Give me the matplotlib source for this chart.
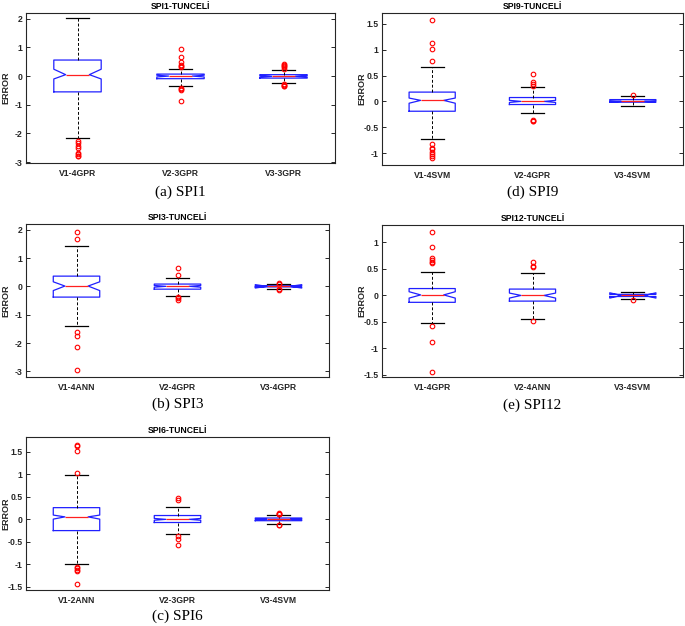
import matplotlib

matplotlib.use("Agg")
import matplotlib.pyplot as plt  # noqa: E402
from matplotlib.ticker import FuncFormatter  # noqa: E402

# ---- data (box statistics per model) ----
spi1_labels = ["V1-4GPR", "V2-3GPR", "V3-3GPR"]
spi1_med = [0.05, 0.0, -0.01]
spi1_q1 = [-0.55, -0.09, -0.07]
spi1_q3 = [0.56, 0.07, 0.05]
spi1_cilo = [-0.10, -0.03, -0.03]
spi1_cihi = [0.24, 0.03, 0.02]
spi1_whislo = [-2.17, -0.34, -0.23]
spi1_whishi = [2.03, 0.25, 0.21]
spi1_fliers = [
    [-2.28, -2.32, -2.45, -2.5, -2.68, -2.72, -2.77, -2.8],
    [0.95, 0.65, 0.5, 0.38, 0.34, 0.3, -0.4, -0.44, -0.48, -0.87],
    [0.42, 0.38, 0.34, 0.3, 0.26, -0.27, -0.3, -0.33, -0.36],
]

spi9_labels = ["V1-4SVM", "V2-4GPR", "V3-4SVM"]
spi9_med = [0.02, 0.0, 0.0]
spi9_q1 = [-0.19, -0.06, -0.015]
spi9_q3 = [0.18, 0.075, 0.035]
spi9_cilo = [-0.035, -0.02, -0.01]
spi9_cihi = [0.065, 0.02, 0.01]
spi9_whislo = [-0.72, -0.22, -0.08]
spi9_whishi = [0.66, 0.27, 0.1]
spi9_fliers = [
    [1.58, 1.13, 1.02, 0.78, -0.82, -0.9, -0.93, -0.97, -1.01, -1.05, -1.1],
    [0.53, 0.37, 0.34, 0.3, -0.35, -0.37, -0.38],
    [0.12],
]

spi3_labels = ["V1-4ANN", "V2-4GPR", "V3-4GPR"]
spi3_med = [0.01, 0.0, 0.0]
spi3_q1 = [-0.38, -0.1, -0.02]
spi3_q3 = [0.36, 0.08, 0.02]
spi3_cilo = [-0.15, -0.03, -0.06]
spi3_cihi = [0.16, 0.03, 0.06]
spi3_whislo = [-1.39, -0.35, -0.08]
spi3_whishi = [1.41, 0.3, 0.07]
spi3_fliers = [
    [1.93, 1.68, -1.6, -1.75, -2.15, -2.97],
    [0.65, 0.4, -0.38, -0.42, -0.48],
    [0.13, 0.1, -0.1, -0.13],
]

spi12_labels = ["V1-4GPR", "V2-4ANN", "V3-4SVM"]
spi12_med = [0.01, 0.0, 0.0]
spi12_q1 = [-0.13, -0.107, -0.02]
spi12_q3 = [0.13, 0.12, 0.02]
spi12_cilo = [-0.05, -0.05, -0.05]
spi12_cihi = [0.07, 0.045, 0.05]
spi12_whislo = [-0.52, -0.45, -0.07]
spi12_whishi = [0.45, 0.42, 0.06]
spi12_fliers = [
    [1.19, 0.92, 0.7, 0.67, 0.64, 0.62, -0.57, -0.88, -1.44],
    [0.64, 0.56, 0.53, -0.49],
    [-0.08],
]

spi6_labels = ["V1-2ANN", "V2-3GPR", "V3-4SVM"]
spi6_med = [0.055, 0.0, 0.0]
spi6_q1 = [-0.25, -0.07, -0.03]
spi6_q3 = [0.26, 0.085, 0.03]
spi6_cilo = [0.005, -0.02, -0.01]
spi6_cihi = [0.095, 0.02, 0.01]
spi6_whislo = [-0.99, -0.32, -0.1]
spi6_whishi = [0.99, 0.27, 0.1]
spi6_fliers = [
    [1.66, 1.64, 1.52, 1.04, -1.06, -1.09, -1.12, -1.15, -1.44],
    [0.47, 0.42, -0.38, -0.43, -0.58],
    [0.15, 0.13, 0.12, 0.11, -0.12, -0.13],
]

W, H = 685, 626


def px_rect(left, top, right, bottom):
    return [left / W, 1 - bottom / H, (right - left) / W, (bottom - top) / H]


panels = [
    ("SPI1-TUNCELİ", "(a) SPI1", spi1_labels, spi1_med, spi1_q1, spi1_q3, spi1_cilo, spi1_cihi,
     spi1_whislo, spi1_whishi, spi1_fliers, (26, 13, 335, 163), (-3.03, 2.2), [-3, -2, -1, 0, 1, 2], 192),
    ("SPI9-TUNCELİ", "(d) SPI9", spi9_labels, spi9_med, spi9_q1, spi9_q3, spi9_cilo, spi9_cihi,
     spi9_whislo, spi9_whishi, spi9_fliers, (382, 13, 683, 165), (-1.23, 1.71), [-1, -0.5, 0, 0.5, 1, 1.5], 192),
    ("SPI3-TUNCELİ", "(b) SPI3", spi3_labels, spi3_med, spi3_q1, spi3_q3, spi3_cilo, spi3_cihi,
     spi3_whislo, spi3_whishi, spi3_fliers, (26, 224, 329, 377), (-3.2, 2.2), [-3, -2, -1, 0, 1, 2], 404),
    ("SPI12-TUNCELİ", "(e) SPI12", spi12_labels, spi12_med, spi12_q1, spi12_q3, spi12_cilo, spi12_cihi,
     spi12_whislo, spi12_whishi, spi12_fliers, (382, 225, 683, 377), (-1.54, 1.33), [-1.5, -1, -0.5, 0, 0.5, 1], 405),
    ("SPI6-TUNCELİ", "(c) SPI6", spi6_labels, spi6_med, spi6_q1, spi6_q3, spi6_cilo, spi6_cihi,
     spi6_whislo, spi6_whishi, spi6_fliers, (26, 437, 329, 590), (-1.57, 1.83), [-1.5, -1, -0.5, 0, 0.5, 1, 1.5], 616),
]

fig = plt.figure(figsize=(W / 100, H / 100), dpi=100)
sans = ["Liberation Sans", "DejaVu Sans"]
serif = ["Liberation Serif", "DejaVu Serif"]
axis_col = "#262626"

for (title, caption, labels, med, q1, q3, cilo, cihi, wlo, whi, fl,
     rect, ylim, yticks, cap_y) in panels:
    ax = fig.add_axes(px_rect(*rect))
    stats = []
    for i in range(len(labels)):
        stats.append(dict(med=med[i], q1=q1[i], q3=q3[i], cilo=cilo[i], cihi=cihi[i],
                          whislo=wlo[i], whishi=whi[i], fliers=fl[i], label=labels[i]))
    ax.bxp(
        stats,
        positions=[1, 2, 3],
        widths=0.46,
        shownotches=True,
        boxprops=dict(color="#2020ff", linewidth=0.9),
        medianprops=dict(color="#ff2020", linewidth=0.9),
        whiskerprops=dict(color="black", linewidth=0.7, linestyle=(0, (3, 2))),
        capprops=dict(color="black", linewidth=0.9),
        flierprops=dict(marker="o", markerfacecolor="none", markeredgecolor="#ff0000",
                        markersize=3.3, markeredgewidth=0.8, linestyle="none"),
    )
    ax.set_xlim(0.5, 3.5)
    ax.set_ylim(*ylim)
    ax.set_yticks(yticks)
    ax.yaxis.set_major_formatter(FuncFormatter(lambda v, p: "%g" % v))
    ax.tick_params(axis="y", direction="in", length=3, width=0.7, right=True,
                   labelsize=6.2, colors=axis_col, pad=2.5)
    ax.tick_params(axis="x", length=0, labelsize=6.2, colors=axis_col, pad=4.5)
    for lab in ax.get_xticklabels() + ax.get_yticklabels():
        lab.set_family(sans)
        lab.set_fontweight("bold")
    for sp in ax.spines.values():
        sp.set_color(axis_col)
        sp.set_linewidth(0.8)
    ax.set_title(title, fontsize=6.2, fontweight="bold", family=sans, pad=3)
    ax.set_ylabel("ERROR", fontsize=6.5, fontweight="bold", family=sans, color=axis_col)
    # fixed label position, its right edge about 16 px left of the axes frame
    ax.yaxis.set_label_coords(-15.8 / (rect[2] - rect[0]), 0.5)
    cx = (rect[0] + rect[2]) / 2 / W
    fig.text(cx, 1 - cap_y / H, caption, ha="center", va="center", fontsize=11, family=serif)

fig.savefig("out.png", dpi=100)
